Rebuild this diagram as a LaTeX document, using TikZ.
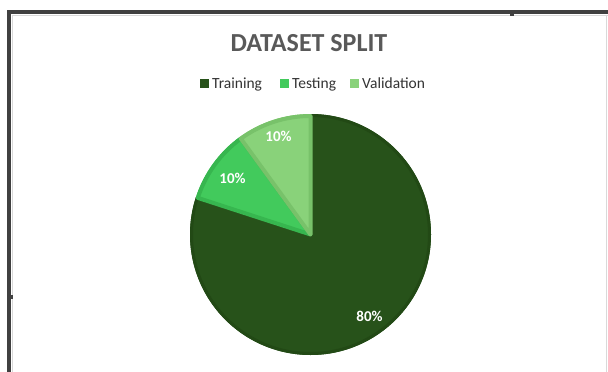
\documentclass[tikz,border=0pt]{standalone}
\usepackage{fontspec}
\setmainfont{Carlito}
\definecolor{trainc}{HTML}{27521A}
\definecolor{traind}{HTML}{224915}
\definecolor{testc}{HTML}{42CA5C}
\definecolor{testd}{HTML}{37B64F}
\definecolor{valc}{HTML}{89D27A}
\definecolor{vald}{HTML}{78C26A}
\definecolor{framec}{HTML}{404040}
\definecolor{titlec}{HTML}{595959}
\begin{document}
\begin{tikzpicture}[x=1pt,y=-1pt,
  pct/.style={text=white,font=\fontsize{15}{15}\selectfont\bfseries,inner sep=0pt},
  legsq/.style={minimum width=9pt,minimum height=9pt,inner sep=0pt},
  legtxt/.style={text=black!80,font=\fontsize{15.5}{15.5}\selectfont,inner sep=0pt,anchor=base west}]
\useasboundingbox (0,0) rectangle (608,372);
\fill[white] (0,0) rectangle (608,372);
% frame
\fill[framec] (7,10) rectangle (608,14);
\fill[framec] (7,10) rectangle (11,372);
\draw[black!15,line width=1.2pt] (12.5,372) -- (12.5,15.5) -- (608,15.5);
\draw[black!15,line width=1.5pt] (606.5,15.5) -- (606.5,372);
\fill[framec] (510,14) rectangle (514,16);
\fill[framec] (11,295) rectangle (13,299);
% title
\node[text=titlec,font=\fontsize{26}{26}\selectfont\bfseries,inner sep=0pt] (title) at (309,43) {DATASET SPLIT};
% legend
\node[legsq,fill=trainc] (sq1) at (204.5,83) {};
\node[legtxt] (l1) at (212,88) {Training};
\node[legsq,fill=testc] (sq2) at (284.5,83) {};
\node[legtxt] (l2) at (292,88) {Testing};
\node[legsq,fill=valc] (sq3) at (354.5,83) {};
\node[legtxt] (l3) at (362,88) {Validation};
% pie
\begin{scope}[shift={(310.5,234.5)},yscale=-1]
\coordinate (c) at (0,0);
\fill[trainc] (c) -- (90:120.5) arc[start angle=90,end angle=-198,radius=120.5] -- cycle;
\draw[traind,line width=3pt,line join=round] (c) -- (90:119) arc[start angle=90,end angle=-198,radius=119] -- cycle;
\fill[testc] (c) -- (162:120.5) arc[start angle=162,end angle=126,radius=120.5] -- cycle;
\draw[testd,line width=4pt,line join=round] (c) -- (162:118.5) arc[start angle=162,end angle=126,radius=118.5] -- cycle;
\fill[valc] (c) -- (126:120.5) arc[start angle=126,end angle=90,radius=120.5] -- cycle;
\draw[vald,line width=4pt,line join=round] (c) -- (126:118.5) arc[start angle=126,end angle=90,radius=118.5] -- cycle;
\end{scope}
\node[pct] (p1) at (369.5,316.5) {80\%};
\node[pct] (p2) at (232.5,178.5) {10\%};
\node[pct] (p3) at (278.5,136.5) {10\%};
\end{tikzpicture}
\end{document}
